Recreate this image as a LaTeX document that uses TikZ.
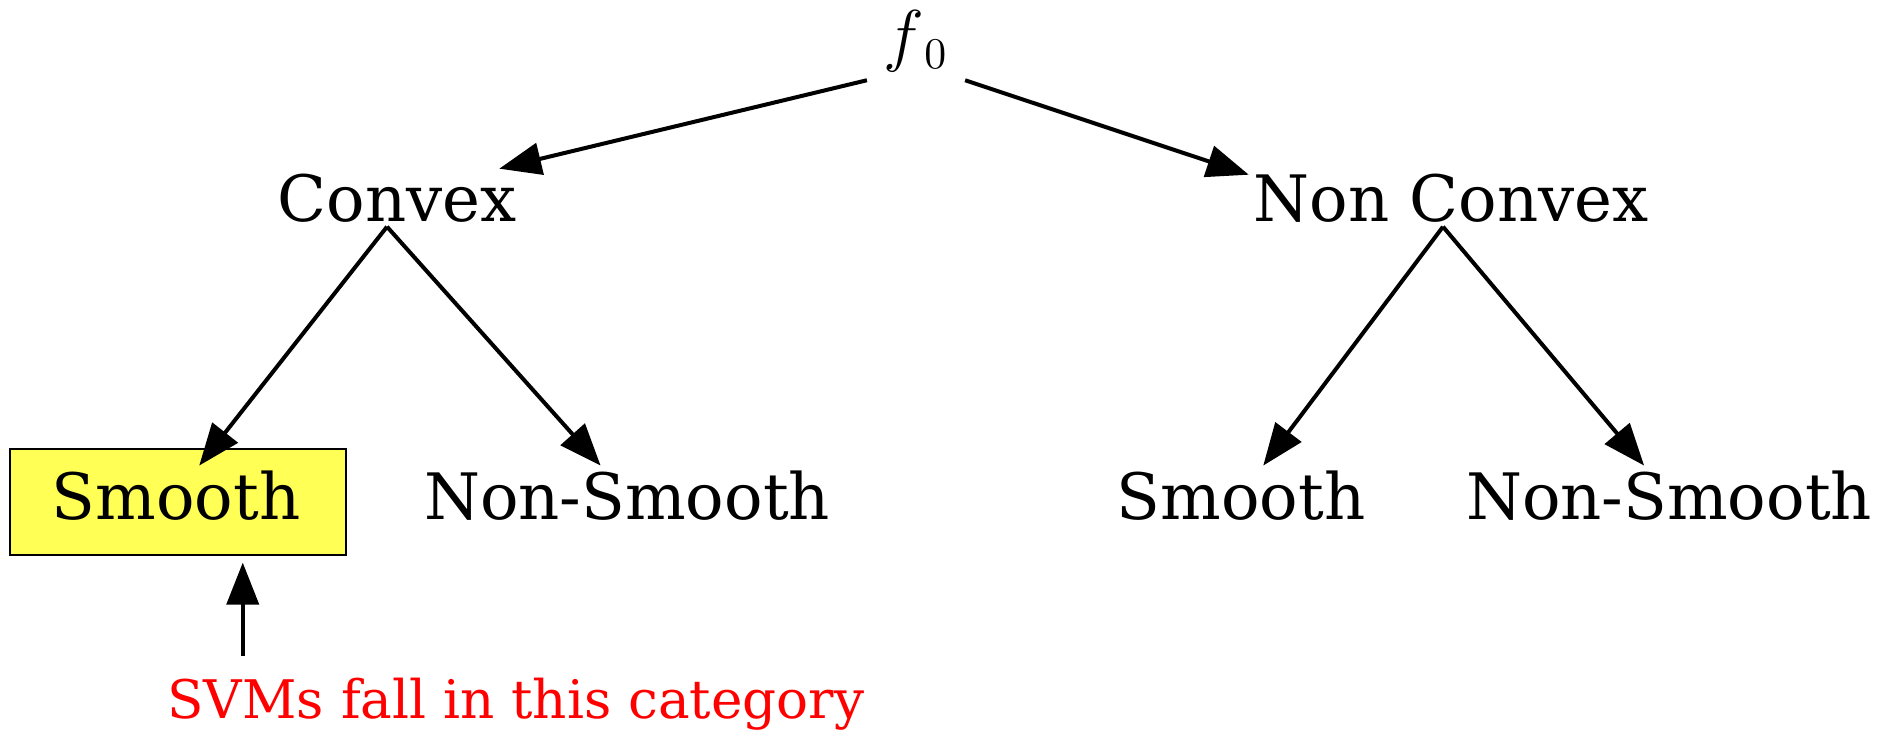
\documentclass[tikz,border=0pt]{standalone}
\usepackage{fontspec}
\setmainfont{DejaVu Serif}
\usetikzlibrary{arrows.meta, positioning, calc}

\definecolor{hiyellow}{RGB}{255,255,85}

\begin{document}
\begin{tikzpicture}[
    x=0.25pt, y=-0.25pt,
    every node/.style={inner sep=1pt, font=\fontsize{16}{19}\selectfont},
    leaf/.style={anchor=base},
    hilite/.style={draw, line width=0.3pt, fill=hiyellow, minimum width=84pt, minimum height=26.5pt},
    edge/.style={-{Triangle[length=10.5pt, width=8pt]}, line width=1pt}
    ]
    \useasboundingbox (0,0) rectangle (1892,729);
    % root and the two classes
    \node[anchor=base, inner xsep=4pt, inner ysep=2pt] (f0) at (916,58) {$f_{\,0}$};
    \node[leaf] (convex) at (397,221) {Convex};
    \node[leaf] (nonconvex) at (1451,221) {Non Convex};
    % leaves
    \node[hilite] (box) at (178,502) {};
    \node[leaf] (smoothL) at (176,519) {Smooth};
    \node[leaf] (nonsmoothL) at (627,519) {Non-Smooth};
    \node[leaf] (smoothR) at (1241,519) {Smooth};
    \node[leaf] (nonsmoothR) at (1669,519) {Non-Smooth};
    \node[leaf, text=red, font=\fontsize{13.3}{16}\selectfont] (svm) at (516,718) {SVMs fall in this category};

    \draw[edge] (f0.south west) -- ([xshift=-5.5pt]convex.north east);
    \draw[edge] (f0.south east) -- ([yshift=-1.5pt]nonconvex.north west);
    \draw[edge] ([xshift=-2.5pt]convex.south) -- (smoothL);
    \draw[edge] ([xshift=-2.5pt]convex.south) -- (nonsmoothL);
    \draw[edge] ([xshift=-2pt]nonconvex.south) -- (smoothR);
    \draw[edge] ([xshift=-2pt]nonconvex.south) -- (nonsmoothR);
    \coordinate (svmtail) at ([xshift=20pt, yshift=4.25pt]svm.north west);
    \draw[edge, shorten >=1.75pt] (svmtail) -- (svmtail |- box.south);
\end{tikzpicture}
\end{document}
